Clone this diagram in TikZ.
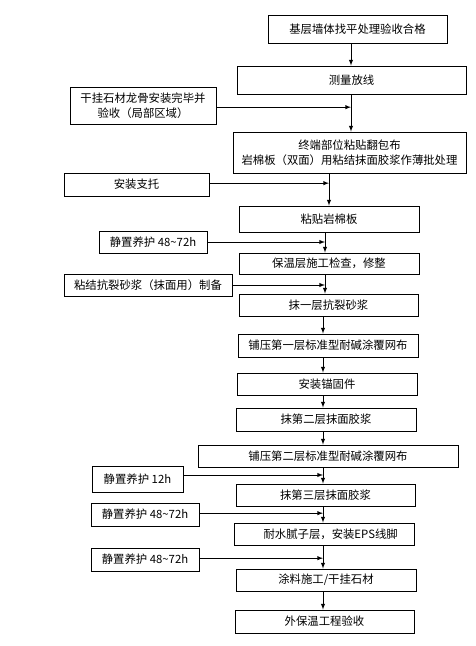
\documentclass[tikz,border=0pt]{standalone}
\usepackage{fontspec}
\setmainfont{Noto Sans CJK SC}
\usetikzlibrary{arrows}
\tikzstyle{stepbox} = [rectangle, draw=black, line width=0.8pt, text centered, align=center, inner sep=1pt, minimum height=0.66cm]
\tikzstyle{sidebox} = [rectangle, draw=black, line width=0.8pt, text centered, align=center, inner sep=1pt, minimum height=0.66cm]
\tikzstyle{arrow} = [line width=0.7pt,->,>=latex]

\begin{document}
\begin{tikzpicture}[x=0.03cm, y=-0.03cm, font=\fontsize{9.7}{13}\selectfont]

\useasboundingbox (0,0) rectangle (475,646);

% main column
\node (b1) [stepbox, minimum width=5.37cm, minimum height=0.84cm] at (357.5,29) {基层墙体找平处理验收合格};
\node (b2) [stepbox, minimum width=6.87cm, minimum height=0.84cm] at (351.5,80) {测量放线};
\node (b3) [stepbox, minimum width=6.99cm, minimum height=1.23cm] at (349.5,152.5) {终端部位粘贴翻包布\\岩棉板（双面）用粘结抹面胶浆作薄批处理};
\node (b4) [stepbox, minimum width=5.40cm, minimum height=0.78cm] at (329,219) {粘贴岩棉板};
\node (b5) [stepbox, minimum width=5.40cm, minimum height=0.63cm] at (329,263.5) {保温层施工检查，修整};
\node (b6) [stepbox, minimum width=5.37cm] at (328.5,305) {抹一层抗裂砂浆};
\node (b7) [stepbox, minimum width=5.40cm, minimum height=0.69cm] at (328,345.5) {铺压第一层标准型耐碱涂覆网布};
\node (b8) [stepbox, minimum width=5.40cm] at (327,384) {安装锚固件};
\node (b9) [stepbox, minimum width=5.40cm, minimum height=0.69cm] at (326,419.5) {抹第二层抹面胶浆};
\node (b10) [stepbox, minimum width=7.80cm] at (328,456) {铺压第二层标准型耐碱涂覆网布};
\node (b11) [stepbox, minimum width=5.37cm] at (325.5,495) {抹第三层抹面胶浆};
\node (b12) [stepbox, minimum width=5.40cm] at (324,534) {\hspace{0.4cm}耐水腻子层，安装EPS线脚};
\node (b13) [stepbox, minimum width=5.40cm] at (326,580) {涂料施工/干挂石材};
\node (b14) [stepbox, minimum width=5.37cm, minimum height=0.69cm] at (324.5,621.5) {外保温工程验收};

% side inputs
\node (s1) [sidebox, minimum width=4.38cm, minimum height=1.11cm] at (143,105.5) {干挂石材龙骨安装完毕并\\验收（局部区域）};
\node (s2) [sidebox, minimum width=4.35cm, minimum height=0.69cm] at (136.5,184.5) {安装支托};
\node (s3) [sidebox, minimum width=3.24cm] at (153,242) {静置养护 48\textasciitilde72h};
\node (s4) [sidebox, minimum width=5.04cm] at (148,285) {粘结抗裂砂浆（抹面用）制备};
\node (s5) [sidebox, minimum width=2.73cm, minimum height=0.78cm] at (137.5,479) {静置养护 12h};
\node (s6) [sidebox, minimum width=3.24cm, minimum height=0.69cm] at (145,514.5) {静置养护 48\textasciitilde72h};
\node (s7) [sidebox, minimum width=3.24cm, minimum height=0.69cm] at (145,559.5) {静置养护 48\textasciitilde72h};

% line positions
\coordinate (colA) at (351,0);
\coordinate (colB) at (329,0);
\coordinate (colC) at (325,0);
\coordinate (colD) at (323,0);

\draw [arrow] (b1.south -| colA) -- (b2.north -| colA);
\draw [arrow] (b2.south -| colA) -- (b3.north -| colA);
\draw [arrow] (b3.south -| colB) -- (b4.north -| colB);
\draw [arrow] (b4.south -| colC) -- (b5.north -| colC);
\draw [arrow] (b5.south -| colC) -- (b6.north -| colC);
\draw [arrow] (b6.south -| colD) -- (b7.north -| colD);
\draw [arrow] (b7.south -| colD) -- (b8.north -| colD);
\draw [arrow] (b8.south -| colD) -- (b9.north -| colD);
\draw [arrow] (b9.south -| colD) -- (b10.north -| colD);
\draw [arrow] (b10.south -| colD) -- (b11.north -| colD);
\draw [arrow] (b11.south -| colD) -- (b12.north -| colD);
\draw [arrow] (b12.south -| colD) -- (b13.north -| colD);
\draw [arrow] (b13.south -| colD) -- (b14.north -| colD);

\draw [arrow] ([yshift=-0.05cm]s1.east) -- ([yshift=-0.05cm]s1.east -| colA);
\draw [arrow] ([yshift=0.04cm]s2.east) -- ([yshift=0.04cm]s2.east -| colB);
\draw [arrow] (s3.east) -- (s3.east -| colC);
\draw [arrow] (s4.east) -- (s4.east -| colC);
\draw [arrow] ([yshift=0.12cm]s5.east) -- ([yshift=0.12cm]s5.east -| colD);
\draw [arrow] ([yshift=0.04cm]s6.east) -- ([yshift=0.04cm]s6.east -| colD);
\draw [arrow] ([yshift=0.04cm]s7.east) -- ([yshift=0.04cm]s7.east -| colD);

\end{tikzpicture}
\end{document}
